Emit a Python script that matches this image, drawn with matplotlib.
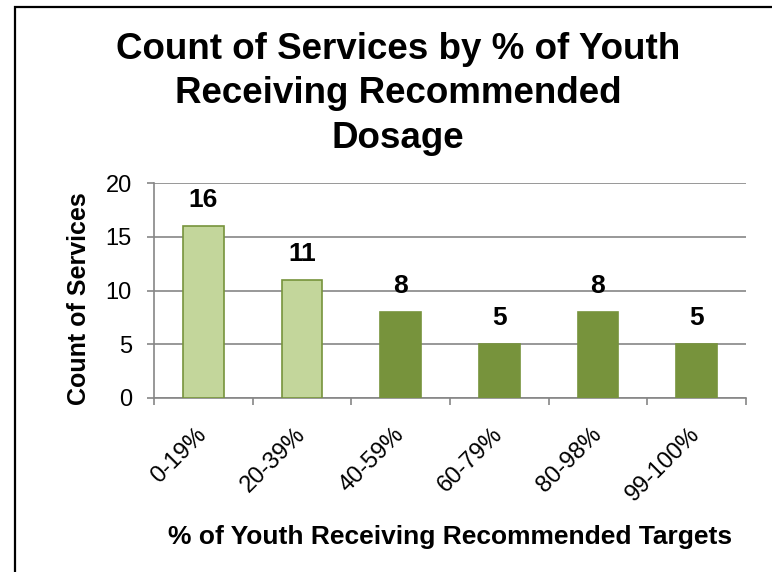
import numpy as np
import matplotlib
matplotlib.use("Agg")
import matplotlib.pyplot as plt
from matplotlib.patches import Rectangle

plt.rcParams['font.family'] = ['Liberation Sans', 'DejaVu Sans']

# data
categories = ['0-19%', '20-39%', '40-59%', '60-79%', '80-98%', '99-100%']
counts = [16, 11, 8, 5, 8, 5]
light = [True, True, False, False, False, False]  # first two bars are pale green

LIGHT_FILL = '#C3D69B'
DARK_FILL = '#77933C'
GRID = '#868686'

fig = plt.figure(figsize=(7.72, 5.72), dpi=100)
W, H = 772.0, 572.0

# outer chart frame (runs off the right and bottom edge)
fig.patches.append(Rectangle((15 / W, -0.05), 1.1, 1 - 7 / H + 0.05, transform=fig.transFigure,
                             fill=False, edgecolor='black', linewidth=1.6))

ax = fig.add_axes([154 / W, 1 - 398 / H, (746 - 154) / W, (398 - 183) / H])

x = np.arange(len(categories))
colors = [LIGHT_FILL if l else DARK_FILL for l in light]
ax.bar(x, counts, width=0.41, color=colors, edgecolor=DARK_FILL, linewidth=1.2, zorder=3)

for xi, c in zip(x, counts):
    ax.annotate(str(c), (xi, c), xytext=(0, 13.7), textcoords='offset points',
                ha='center', va='baseline', fontsize=19, fontweight='bold')

ax.set_xlim(-0.5, len(categories) - 0.5)
ax.set_ylim(0, 20)
ax.set_yticks([0, 5, 10, 15, 20])
ax.yaxis.grid(True, color=GRID, linewidth=1.2, zorder=0)
ax.set_axisbelow(True)

# category boundary ticks, labels on the centres
ax.set_xticks(np.arange(len(categories) + 1) - 0.5)
ax.set_xticklabels([])
ax.set_xticks(x, minor=True)
ax.set_xticklabels(categories, minor=True, rotation=45, ha='right', va='center',
                   rotation_mode='anchor', fontsize=17)
ax.tick_params(axis='x', which='minor', length=0, pad=24)
ax.tick_params(axis='x', which='major', length=5, width=1.2, color=GRID, direction='out')
ax.tick_params(axis='y', length=5, width=1.2, color=GRID, direction='out', labelsize=17, pad=11)

for s in ['top', 'right']:
    ax.spines[s].set_visible(False)
for s in ['left', 'bottom']:
    ax.spines[s].set_color(GRID)
    ax.spines[s].set_linewidth(1.2)

fig.text(398 / W, 1 - 148 / H, 'Count of Services by % of Youth\nReceiving Recommended\nDosage',
         ha='center', va='baseline', fontsize=26.5, fontweight='bold', linespacing=1.36,
         multialignment='center')
fig.text(79 / W, 1 - 299 / H, 'Count of Services', rotation=90, ha='center', va='center',
         fontsize=18, fontweight='bold')
fig.text(450 / W, 1 - 544 / H, '% of Youth Receiving Recommended Targets', ha='center',
         va='baseline', fontsize=19, fontweight='bold')

fig.savefig('out.png', dpi=100)
